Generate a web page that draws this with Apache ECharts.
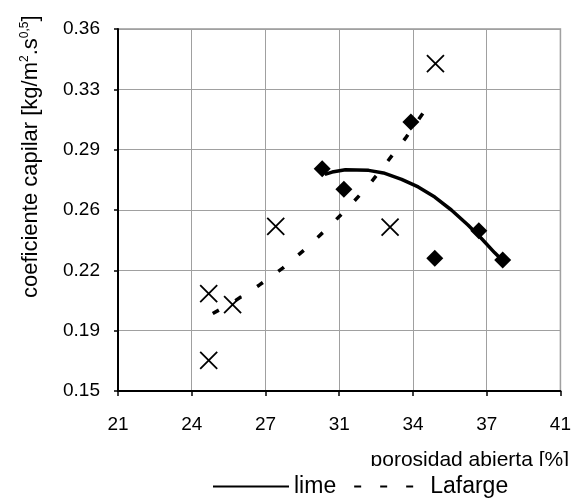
<!DOCTYPE html>
<html>
<head>
<meta charset="utf-8">
<script src="https://cdn.jsdelivr.net/npm/echarts@6/dist/echarts.min.js"></script>
<style>
html,body{margin:0;padding:0;background:#fff;}
#chart{width:574px;height:500px;}
</style>
</head>
<body>
<div id="chart"></div>
<script>
// ---- data ----
var xTickLabels = ['21', '24', '27', '31', '34', '37', '41'];
var yTickLabels = ['0.15', '0.19', '0.22', '0.26', '0.29', '0.33', '0.36'];

var limeX = [30.23, 31.21, 34.24, 35.32, 37.31, 38.39];
var limeY = [0.279, 0.267, 0.306, 0.227, 0.243, 0.226];

var lafargeX = [25.1, 25.1, 26.18, 28.13, 33.3, 35.35];
var lafargeY = [0.2065, 0.1678, 0.2001, 0.2455, 0.2451, 0.3399];

var limeFitX = [30.35, 30.68, 31.28, 32.33, 33.0, 33.82, 34.57, 35.32, 36.07, 36.82, 37.42, 38.02, 38.47];
var limeFitY = [0.2757, 0.2770, 0.2784, 0.2780, 0.2765, 0.2728, 0.2684, 0.2625, 0.2550, 0.2463, 0.2386, 0.2303, 0.2245];

var lafargeFitX = [25.13, 25.28, 26.18, 27.38, 28.46, 29.40, 30.45, 31.46, 32.33, 33.19, 33.98, 34.84];
var lafargeFitY = [0.1928, 0.1949, 0.2014, 0.2114, 0.2214, 0.2316, 0.2442, 0.2571, 0.2693, 0.2833, 0.2964, 0.3122];

function pairs(xs, ys) { return xs.map(function (x, i) { return [x, ys[i]]; }); }

var FONT = "'Liberation Sans', Arial, sans-serif";
var chart = echarts.init(document.getElementById('chart'), null, {renderer: 'canvas'});

var option = {
  animation: false,
  backgroundColor: '#fff',
  grid: {left: 118, right: 11, top: 29, bottom: 109, show: true, borderColor: '#999', borderWidth: 1.5, backgroundColor: 'transparent'},
  title: {
    text: 'porosidad abierta [%]', right: 5, top: 450, padding: 0,
    textStyle: {fontFamily: FONT, fontSize: 21, fontWeight: 'normal', color: '#000'}
  },
  legend: {
    data: ['lime', 'Lafarge'], left: 212, top: 475, padding: 0, z: 20,
    itemWidth: 76, itemHeight: 14, itemGap: 12,
    itemStyle: {opacity: 0},
    textStyle: {fontFamily: FONT, fontSize: 23, color: '#000'},
    backgroundColor: 'transparent'
  },
  xAxis: [
    {type: 'value', min: 21, max: 41, axisLine: {show: true, onZero: false, lineStyle: {color: '#000', width: 2}},
     axisTick: {show: false}, axisLabel: {show: false}, splitLine: {show: false}, z: 5},
    {type: 'value', min: 0, max: 6, interval: 1, position: 'bottom', axisLine: {show: false},
     axisTick: {show: true, length: 5, lineStyle: {color: '#000', width: 1.5}},
     axisLabel: {margin: 24, fontFamily: FONT, fontSize: 19, color: '#000', formatter: function (v) { return xTickLabels[Math.round(v)]; }},
     splitLine: {show: true, lineStyle: {color: '#a0a0a0', width: 1}}}
  ],
  yAxis: [
    {type: 'value', min: 0.15, max: 0.36, axisLine: {show: true, onZero: false, lineStyle: {color: '#000', width: 2}},
     axisTick: {show: false}, axisLabel: {show: false}, splitLine: {show: false}, z: 5},
    {type: 'value', min: 0, max: 6, interval: 1, position: 'left', axisLine: {show: false},
     axisTick: {show: true, length: 4, lineStyle: {color: '#000', width: 1.5}},
     axisLabel: {margin: 18, fontFamily: FONT, fontSize: 19, color: '#000', formatter: function (v) { return yTickLabels[Math.round(v)]; }},
     splitLine: {show: true, lineStyle: {color: '#a0a0a0', width: 1}}}
  ],
  graphic: [
    {type: 'rect', z: 15, shape: {x: 300, y: 466, width: 274, height: 9}, style: {fill: '#fff'}},
    {type: 'text', x: 31, y: 298, rotation: Math.PI / 2, z: 10,
     style: {
       text: '{a|coeficiente capilar [kg/m}{s|2}{a|.s}{s|0,5}{a|]}',
       verticalAlign: 'middle', align: 'left',
       rich: {
         a: {fontFamily: FONT, fontSize: 22, fill: '#000', lineHeight: 25},
         s: {fontFamily: FONT, fontSize: 12, fill: '#000', verticalAlign: 'top'}
       }
     }}
  ],
  series: [
    {name: 'lime', type: 'line', xAxisIndex: 0, yAxisIndex: 0, data: pairs(limeFitX, limeFitY),
     symbol: 'none', smooth: false, lineStyle: {color: '#000', width: 3.5, join: 'round'}, itemStyle: {color: '#000'}, z: 3},
    {name: 'Lafarge', type: 'line', xAxisIndex: 0, yAxisIndex: 0, data: pairs(lafargeFitX, lafargeFitY),
     symbol: 'none', smooth: false, lineStyle: {color: '#000', width: 3.5, type: [7, 19], dashOffset: 21}, itemStyle: {color: '#000'}, z: 3},
    {name: 'lime data', type: 'scatter', xAxisIndex: 0, yAxisIndex: 0, data: pairs(limeX, limeY),
     symbol: 'diamond', symbolSize: 17, itemStyle: {color: '#000', opacity: 1}, z: 4},
    {name: 'Lafarge data', type: 'scatter', xAxisIndex: 0, yAxisIndex: 0, data: pairs(lafargeX, lafargeY),
     symbol: 'path://M0,0L10,10M10,0L0,10', symbolSize: 17,
     itemStyle: {color: 'rgba(0,0,0,0)', borderColor: '#000', borderWidth: 1.8, opacity: 1}, z: 4}
  ]
};
chart.setOption(option);
</script>
</body>
</html>
